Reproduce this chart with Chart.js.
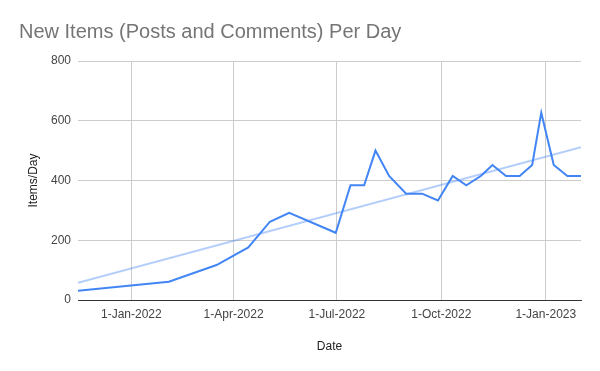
<!DOCTYPE html>
<html>
<head>
<meta charset="utf-8">
<script src="https://cdn.jsdelivr.net/npm/chart.js@4/dist/chart.umd.min.js"></script>
<style>
  html, body { margin: 0; padding: 0; background: #fff; }
  #wrap { width: 600px; height: 371px; }
</style>
</head>
<body>
<div id="wrap"><canvas id="c" width="600" height="371"></canvas></div>
<script>
// ---- data ----
const dates = [
  "2021-11-15", "2022-02-03", "2022-03-17", "2022-04-14", "2022-05-03", "2022-05-20",
  "2022-06-30", "2022-07-13", "2022-07-25", "2022-08-04", "2022-08-16", "2022-08-31",
  "2022-09-14", "2022-09-28", "2022-10-11", "2022-10-23", "2022-11-05", "2022-11-15",
  "2022-11-27", "2022-12-09", "2022-12-20", "2022-12-28", "2023-01-08", "2023-01-20",
  "2023-02-01"
];
const itemsPerDay = [
  31, 61, 117, 176, 262, 292,
  225, 384, 384, 500, 415, 356,
  356, 333, 415, 384, 416, 452,
  415, 415, 452, 627, 452, 415,
  415
];
const trendDates = ["2021-11-15", "2023-02-01"];
const trendValues = [58, 511];
const tickDates = ["2022-01-01", "2022-04-01", "2022-07-01", "2022-10-01", "2023-01-01"];
const tickLabels = ["1-Jan-2022", "1-Apr-2022", "1-Jul-2022", "1-Oct-2022", "1-Jan-2023"];
const yTicks = [0, 200, 400, 600, 800];

// ---- helpers ----
const toDay = s => Date.UTC(+s.slice(0,4), +s.slice(5,7) - 1, +s.slice(8,10)) / 86400000;
const seriesPts = dates.map((d, i) => ({ x: toDay(d), y: itemsPerDay[i] }));
const trendPts = trendDates.map((d, i) => ({ x: toDay(d), y: trendValues[i] }));
const tickDays = tickDates.map(toDay);

const FONT = "'Liberation Sans', Arial, sans-serif";

new Chart(document.getElementById('c'), {
  type: 'line',
  data: {
    datasets: [
      {
        label: 'Items/Day',
        data: seriesPts,
        borderColor: '#4285F4',
        borderWidth: 2,
        pointRadius: 0,
        tension: 0,
        fill: false,
        order: 1
      },
      {
        label: 'Trendline',
        data: trendPts,
        borderColor: 'rgba(66,133,244,0.4)',
        borderWidth: 2,
        pointRadius: 0,
        tension: 0,
        fill: false,
        order: 2
      }
    ]
  },
  options: {
    responsive: false,
    animation: false,
    devicePixelRatio: 1,
    layout: { padding: { left: 19, right: 19, top: 0, bottom: 0 } },
    plugins: {
      legend: { display: false },
      tooltip: { enabled: false },
      title: {
        display: true,
        text: 'New Items (Posts and Comments) Per Day',
        align: 'start',
        color: '#757575',
        font: { family: FONT, size: 20, weight: 'normal', lineHeight: 1.2 },
        padding: { top: 20, bottom: 17 }
      }
    },
    scales: {
      x: {
        type: 'linear',
        min: toDay(dates[0]),
        max: toDay(dates[dates.length - 1]),
        afterBuildTicks: scale => { scale.ticks = tickDays.map(v => ({ value: v })); },
        afterFit: scale => { scale.height = 71; },
        ticks: {
          autoSkip: false,
          maxRotation: 0,
          padding: 7,
          color: '#444444',
          font: { family: FONT, size: 12 },
          callback: v => { const i = tickDays.indexOf(v); return i >= 0 ? tickLabels[i] : ''; }
        },
        grid: { color: '#cccccc', lineWidth: 1, drawTicks: false },
        border: { display: true, color: '#333333', width: 1 },
        title: {
          display: true,
          text: 'Date',
          color: '#222222',
          font: { family: FONT, size: 12 },
          padding: { top: 17, bottom: 17 }
        }
      },
      y: {
        min: 0,
        max: 800,
        afterBuildTicks: scale => { scale.ticks = yTicks.map(v => ({ value: v })); },
        afterFit: scale => { scale.width = 59; },
        ticks: {
          padding: 7,
          color: '#444444',
          font: { family: FONT, size: 12 }
        },
        grid: { color: '#cccccc', lineWidth: 1, drawTicks: false },
        border: { display: false },
        title: {
          display: true,
          text: 'Items/Day',
          color: '#222222',
          font: { family: FONT, size: 12 },
          padding: { top: 7, bottom: 7 }
        }
      }
    }
  }
});
</script>
</body>
</html>
